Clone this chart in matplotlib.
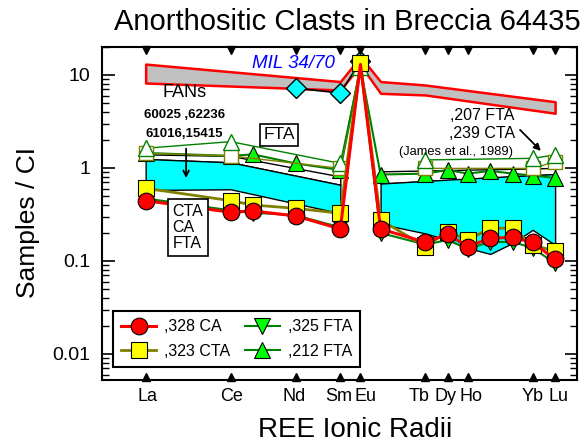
import matplotlib
matplotlib.use("Agg")
import numpy as np
import matplotlib.pyplot as plt
import matplotlib.transforms as mtransforms
from matplotlib.ticker import FuncFormatter, NullFormatter

plt.rcParams['font.family'] = ['Liberation Sans', 'DejaVu Sans']

# REE order and ionic radii used for the x axis
ree = ['La', 'Ce', 'Pr', 'Nd', 'Sm', 'Eu', 'Gd', 'Tb', 'Dy', 'Ho', 'Er', 'Tm', 'Yb', 'Lu']
radii = [1.160, 1.122, 1.112, 1.093, 1.073, 1.064, 1.055, 1.035, 1.025, 1.016, 1.006, 0.996, 0.987, 0.977]
labeled = ['La', 'Ce', 'Nd', 'Sm', 'Eu', 'Tb', 'Dy', 'Ho', 'Yb', 'Lu']

# this study (all 14 REE)
ca_328 = [0.445, 0.334, 0.345, 0.305, 0.221, 13.0, 0.221, 0.159, 0.194, 0.143, 0.175, 0.18, 0.158, 0.104]
cta_323 = [0.605, 0.445, 0.40, 0.368, 0.326, 13.4, 0.276, 0.143, 0.207, 0.168, 0.225, 0.225, 0.148, 0.128]
fta_325 = [0.47, 0.35, 0.33, 0.31, 0.23, 12.5, 0.20, 0.15, 0.168, 0.135, 0.16, 0.16, 0.138, 0.094]
fta_212 = [1.45, 1.35, 1.40, 1.12, 0.95, 12.0, 0.85, 0.87, 0.95, 0.87, 0.93, 0.87, 0.83, 0.78]

# James et al. (1989)
james_els = ['La', 'Ce', 'Sm', 'Eu', 'Tb', 'Yb', 'Lu']
fta_207 = [1.63, 1.92, 1.12, 12.2, 1.22, 1.27, 1.38]
cta_239 = [1.44, 1.35, 0.99, 13.0, 0.99, 0.99, 1.17]

# MIL 34/70
mil_els = ['Nd', 'Sm', 'Eu']
mil_vals = [7.2, 6.4, 14.0]

# FAN range (60025, 62236, 61016, 15415)
fan_els = ['La', 'Sm', 'Eu', 'Gd', 'Tb', 'Lu']
fan_hi = [13.1, 8.5, 15.7, 8.5, 7.8, 5.16]
fan_lo = [8.2, 6.9, 12.8, 6.35, 6.1, 3.88]

# CTA / CA / FTA ranges
left_els = ['La', 'Ce', 'Sm']
left_white_hi = [1.40, 1.35, 0.81]
left_cyan_hi = [1.25, 1.15, 0.66]
left_cyan_lo = [0.58, 0.59, 0.326]
right_top_els = ['Gd', 'Lu']
right_white_hi = [0.92, 1.0]
right_cyan_hi = [0.68, 0.86]
right_els = ['Gd', 'Tb', 'Dy', 'Ho', 'Er', 'Tm', 'Yb', 'Lu']
right_cyan_lo = [0.25, 0.198, 0.168, 0.138, 0.119, 0.156, 0.216, 0.149]

rad = dict(zip(ree, radii))


def xs(els):
    return [rad[e] for e in els]


fig = plt.figure(figsize=(5.86, 4.45), dpi=100)
ax = fig.add_axes([0.1741, 0.1461, 0.8106, 0.7483])
ax.set_yscale('log')

# shaded ranges
ax.fill_between(xs(left_els), left_cyan_hi, left_white_hi, facecolor='white', edgecolor='black', lw=1, zorder=1)
ax.fill_between(xs(left_els), left_cyan_lo, left_cyan_hi, facecolor='#00ffff', edgecolor='black', lw=1, zorder=1.5)
ax.fill_between(xs(right_top_els), right_cyan_hi, right_white_hi, facecolor='white', edgecolor='black', lw=1, zorder=1)
rx = xs(right_els)
r_hi = np.interp(rx[::-1], xs(right_top_els)[::-1], right_cyan_hi[::-1])[::-1]
ax.fill_between(rx, right_cyan_lo, r_hi, facecolor='#00ffff', edgecolor='black', lw=1, zorder=1.5)
ax.fill_between(xs(fan_els), fan_lo, fan_hi, facecolor='#c0c0c0', edgecolor='red', lw=1.8, zorder=2)

# MIL 34/70
ax.plot(xs(mil_els), mil_vals, '-D', color='black', lw=1.2, ms=10, mfc='#00ffff', mec='black', zorder=2.5)

# data series (Eu markers hidden except the CTA square, as in the original)
no_eu = [i for i, e in enumerate(ree) if e != 'Eu']
h212, = ax.plot(radii, fta_212, '-^', color='#008000', lw=1.5, ms=12, mfc='#00ff00', mec='black', mew=0.8,
                markevery=no_eu, zorder=3)
cut = james_els.index('Eu') + 1
for vals, mk, col, ms in [(cta_239, 's', '#808000', 10), (fta_207, '^', '#008000', 12)]:
    jx = xs(james_els)
    ax.plot(jx[:cut], vals[:cut], '-', color=col, lw=1, zorder=3.2)
    ax.plot(jx[cut:], vals[cut:], '-', color=col, lw=1, zorder=3.2)
    ax.plot(jx, vals, mk, ms=ms, mfc='white', mec=col, mew=1, zorder=3.3)
h325, = ax.plot(radii, fta_325, '-v', color='#008000', lw=1.5, ms=12, mfc='#00ff00', mec='black', mew=0.8,
                markevery=no_eu, zorder=4)
h323, = ax.plot(radii, cta_323, '-s', color='#808000', lw=2, ms=11, mfc='#ffff00', mec='black', mew=0.8, zorder=4.5)
h328, = ax.plot(radii, ca_328, '-o', color='#ff0000', lw=2.2, ms=12, mfc='#ff0000', mec='black', mew=0.8,
                markevery=no_eu, zorder=5)

ax.set_xlim(1.1795, 0.9672)
ax.set_ylim(0.00525, 20)

# axes styling
for s in ax.spines.values():
    s.set_linewidth(1.5)
ax.set_xticks(xs(labeled))
ax.xaxis.set_major_formatter(NullFormatter())
ax.tick_params(axis='x', length=0)
ax.tick_params(axis='y', which='both', direction='in', left=True, right=True, labelsize=14, pad=8.5)
ax.tick_params(axis='y', which='major', length=9, width=1.2)
ax.tick_params(axis='y', which='minor', length=5, width=1)
ax.yaxis.set_major_formatter(FuncFormatter(lambda v, p: f'{v:g}'))

# element labels, nudged like the original so neighbours do not collide
label_dx = [2, 1, -1, -2, 5, -6, -2, 3, 0, 3]
for e, dx in zip(labeled, label_dx):
    tr = ax.get_xaxis_transform() + mtransforms.ScaledTranslation(dx / 100, -8 / 100, fig.dpi_scale_trans)
    ax.text(rad[e], 0, e, transform=tr, fontsize=13, ha='center', va='top', clip_on=False)

trans = ax.get_xaxis_transform()
ax.plot(xs(labeled), [0.991] * len(labeled), 'v', color='black', ms=6, transform=trans, clip_on=False, zorder=6)
ax.plot(xs(labeled), [0.009] * len(labeled), '^', color='black', ms=6, transform=trans, clip_on=False, zorder=6)

ax.set_title('Anorthositic Clasts in Breccia 64435', fontsize=21, x=0.517, y=1.051, pad=0)
ax.set_ylabel('Samples / CI', fontsize=19)
ax.yaxis.set_label_coords(-0.13, 0.474)
ax.set_xlabel('REE Ionic Radii', fontsize=20)
ax.xaxis.set_label_coords(0.533, -0.11)

# annotations
ax.text(0.403, 0.949, 'MIL 34/70', transform=ax.transAxes, color='#0000ff', style='italic',
        fontsize=13.5, ha='center', va='center', zorder=7)
ax.text(0.174, 0.862, 'FANs', transform=ax.transAxes, fontsize=13, ha='center', va='center', zorder=7)
ax.text(0.173, 0.795, '60025 ,62236', transform=ax.transAxes, fontsize=9.5, fontweight='bold',
        ha='center', va='center', zorder=7)
ax.text(0.173, 0.738, '61016,15415', transform=ax.transAxes, fontsize=9.5, fontweight='bold',
        ha='center', va='center', zorder=7)
ax.annotate('', xy=(0.177, 0.598), xytext=(0.177, 0.703), xycoords='axes fraction',
            arrowprops=dict(arrowstyle='->', color='black', lw=1.3), zorder=7)
ax.text(0.373, 0.736, 'FTA', transform=ax.transAxes, fontsize=12.5, ha='center', va='center', zorder=7,
        bbox=dict(boxstyle='square,pad=0.2', fc='white', ec='black', lw=1.2))
ax.text(0.181, 0.458, 'CTA\nCA\nFTA', transform=ax.transAxes, fontsize=11.5, ha='center', va='center',
        multialignment='left', linespacing=1.1, zorder=7,
        bbox=dict(boxstyle='square,pad=0.3', fc='white', ec='black', lw=1.2))
ax.text(0.869, 0.793, ',207 FTA', transform=ax.transAxes, fontsize=11.5, ha='right', va='center', zorder=7)
ax.text(0.869, 0.740, ',239 CTA', transform=ax.transAxes, fontsize=11.5, ha='right', va='center', zorder=7)
ax.text(0.745, 0.685, '(James et al., 1989)', transform=ax.transAxes, fontsize=9.3, ha='center',
        va='center', zorder=7)
ax.annotate('', xy=(0.928, 0.682), xytext=(0.876, 0.757), xycoords='axes fraction',
            arrowprops=dict(arrowstyle='-|>', color='black', lw=1.3), zorder=7)

leg = ax.legend([h328, h323, h325, h212], [',328 CA', ',323 CTA', ',325 FTA', ',212 FTA'],
                ncol=2, loc='lower left', bbox_to_anchor=(0.023, 0.039), borderaxespad=0,
                fontsize=11.5, frameon=True, fancybox=False, edgecolor='black', framealpha=1,
                handlelength=2.2, columnspacing=0.9, labelspacing=0.6, borderpad=0.5,
                handletextpad=0.5)
leg.get_frame().set_linewidth(1.5)
leg.set_zorder(8)

fig.savefig('out.png', dpi=100)
